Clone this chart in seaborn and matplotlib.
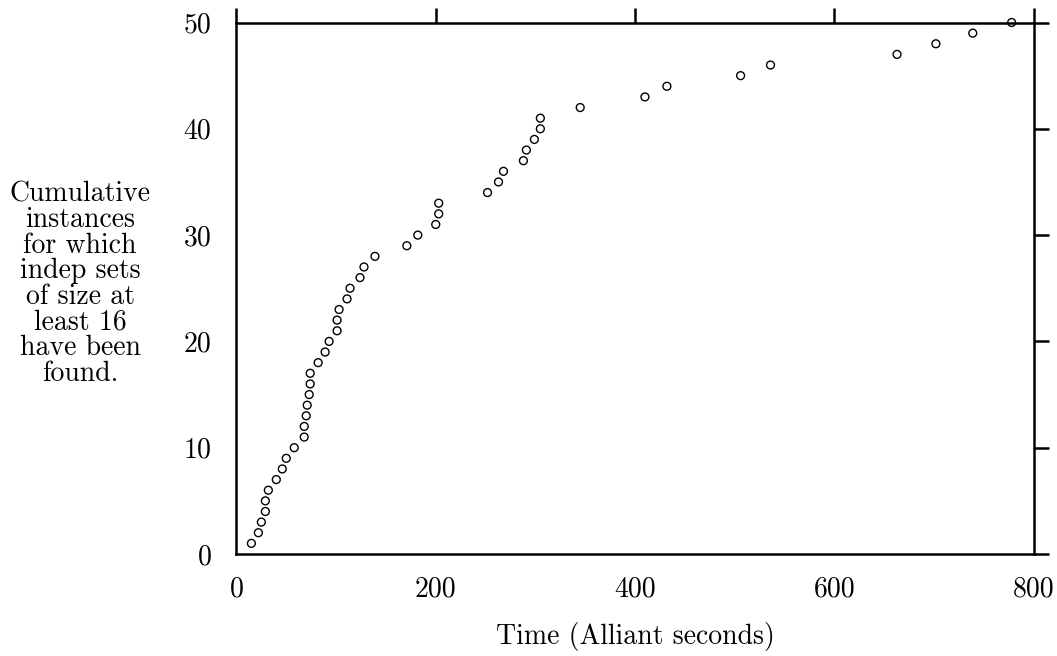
import numpy as np
import pandas as pd
import matplotlib
matplotlib.use("Agg")
import matplotlib.pyplot as plt
import seaborn as sns

# time (Alliant seconds) at which each successive instance found an indep set of size >= 16
times = [15, 22, 25, 29, 29, 32, 40, 46, 50, 58,
         68, 68, 70, 71, 73, 74, 74, 82, 89, 93,
         101, 101, 103, 111, 114, 124, 128, 139, 171, 182,
         200, 203, 203, 252, 263, 268, 288, 291, 299, 305,
         305, 345, 410, 432, 506, 536, 663, 702, 739, 778]
counts = list(range(1, len(times) + 1))

x_ticks = [0, 200, 400, 600, 800]
y_ticks = [0, 10, 20, 30, 40, 50]

ylabel_lines = ["Cumulative", "instances", "for which", "indep sets",
                "of size at", "least 16", "have been", "found."]
xlabel = "Time (Alliant seconds)"


def main():
    sns.set_theme(style="white")
    plt.rcParams["font.family"] = ["cmr10", "DejaVu Serif"]
    plt.rcParams["axes.formatter.use_mathtext"] = True
    plt.rcParams["mathtext.fontset"] = "cm"

    df = pd.DataFrame({"time": times, "count": counts})

    fig = plt.figure(figsize=(10.57, 6.56), dpi=100)
    ax = fig.add_axes([0.2237, 0.1555, 0.9778 - 0.2237, 0.9657 - 0.1555])

    sns.scatterplot(data=df, x="time", y="count", ax=ax, marker="o", s=32,
                    facecolor="none", edgecolor="black", linewidth=1.0,
                    legend=False, clip_on=False, zorder=3)

    ax.set_xlim(0, 800)
    ax.set_ylim(0, 50)
    ax.set_xticks(x_ticks)
    ax.set_yticks(y_ticks)
    ax.set_xticklabels([str(t) for t in x_ticks])
    ax.set_yticklabels([str(t) for t in y_ticks])

    for sp in ax.spines.values():
        sp.set_visible(True)
        sp.set_color("black")
        sp.set_linewidth(1.8)

    ax.tick_params(axis="both", which="major", direction="out", length=11,
                   width=1.8, color="black", labelsize=20, labelcolor="black",
                   top=True, right=True, labeltop=False, labelright=False)
    ax.tick_params(axis="x", pad=5)
    ax.tick_params(axis="y", pad=7)
    ax.grid(False)

    ax.set_xlabel(xlabel, fontsize=20, labelpad=14, color="black")
    ax.set_ylabel("")
    fig.text(80 / 1057, 1 - 284 / 656, "\n".join(ylabel_lines),
             ha="center", va="center", fontsize=20, linespacing=0.97,
             color="black", multialignment="center")

    fig.savefig("out.png", dpi=100)


if __name__ == "__main__":
    main()
